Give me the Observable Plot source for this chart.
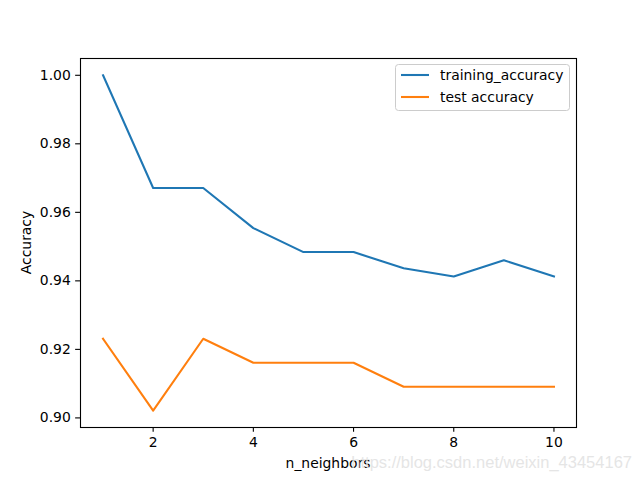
<!DOCTYPE html>
<html>
<head>
<meta charset="utf-8">
<script src="https://cdn.jsdelivr.net/npm/d3@7"></script>
<script src="https://cdn.jsdelivr.net/npm/@observablehq/plot@0.6"></script>
<style>
  html, body { margin: 0; padding: 0; background: white; }
  #chart { width: 640px; height: 480px; }
</style>
</head>
<body>
<div id="chart"></div>
<script>
const neighbors = [1, 2, 3, 4, 5, 6, 7, 8, 9, 10];
const trainingAccuracy = [1.0, 0.9671, 0.9671, 0.9554, 0.9484, 0.9484, 0.9437, 0.9413, 0.9460, 0.9413];
const testAccuracy = [0.9231, 0.9021, 0.9231, 0.9161, 0.9161, 0.9161, 0.9091, 0.9091, 0.9091, 0.9091];
const xTicks = [2, 4, 6, 8, 10];
const yTicks = [0.90, 0.92, 0.94, 0.96, 0.98, 1.00];
const seriesNames = ["training_accuracy", "test accuracy"];
const seriesColors = ["#1f77b4", "#ff7f0e"];
const xLabel = "n_neighbors";
const yLabel = "Accuracy";
const watermark = "https://blog.csdn.net/weixin_43454167";

const rows = [];
neighbors.forEach((k, i) => {
  rows.push({k, acc: trainingAccuracy[i], series: seriesNames[0]});
  rows.push({k, acc: testAccuracy[i], series: seriesNames[1]});
});

const W = 640, H = 480, mL = 80, mR = 64, mT = 58, mB = 53;
const tick = 4.86;

const chart = Plot.plot({
  width: W, height: H,
  marginLeft: mL, marginRight: mR, marginTop: mT, marginBottom: mB,
  style: {fontFamily: "DejaVu Sans", fontSize: "13.9px", background: "white", color: "black", overflow: "visible"},
  x: {domain: [0.55, 10.45], label: null},
  y: {domain: [0.8972, 1.0049], label: null},
  color: {domain: seriesNames, range: seriesColors},
  marks: [
    Plot.line(rows, {x: "k", y: "acc", z: "series", stroke: "series", strokeWidth: 2.08, strokeLinejoin: "round", strokeLinecap: "square"}),
    Plot.frame({stroke: "black", strokeWidth: 1.1}),
    Plot.axisX({ticks: xTicks, tickSize: tick, tickPadding: tick, label: null, tickFormat: d => String(d), strokeWidth: 1.1}),
    Plot.axisY({ticks: yTicks, tickSize: tick, tickPadding: tick, label: null, tickFormat: d3.format(".2f"), strokeWidth: 1.1})
  ]
});
document.getElementById("chart").appendChild(chart);

const svg = d3.select(chart);
const font = "DejaVu Sans";
svg.append("text").attr("x", (mL + (W - mR)) / 2).attr("y", 468)
  .attr("text-anchor", "middle").attr("font-family", font).attr("font-size", "13.9px")
  .attr("fill", "black").text(xLabel);
svg.append("text").attr("transform", `translate(31,${(mT + (H - mB)) / 2}) rotate(-90)`)
  .attr("text-anchor", "middle").attr("font-family", font).attr("font-size", "13.9px")
  .attr("fill", "black").text(yLabel);

// legend
const lg = svg.append("g");
lg.append("rect").attr("x", 395.5).attr("y", 64.5).attr("width", 174).attr("height", 46)
  .attr("rx", 3).attr("fill", "white").attr("fill-opacity", 0.8)
  .attr("stroke", "#cccccc").attr("stroke-width", 1);
seriesNames.forEach((name, i) => {
  const y = 75 + i * 22;
  lg.append("line").attr("x1", 401).attr("x2", 429).attr("y1", y).attr("y2", y)
    .attr("stroke", seriesColors[i]).attr("stroke-width", 2.08);
  lg.append("text").attr("x", 440).attr("y", y + 5).attr("text-anchor", "start")
    .attr("font-family", font).attr("font-size", "13.9px").attr("fill", "black").text(name);
});

// watermark
svg.append("text").attr("x", 632).attr("y", 468).attr("text-anchor", "end")
  .attr("font-family", "Liberation Sans").attr("font-size", "16.5px")
  .attr("fill", "#e2e2e2").attr("fill-opacity", 0.9).text(watermark);
</script>
</body>
</html>
